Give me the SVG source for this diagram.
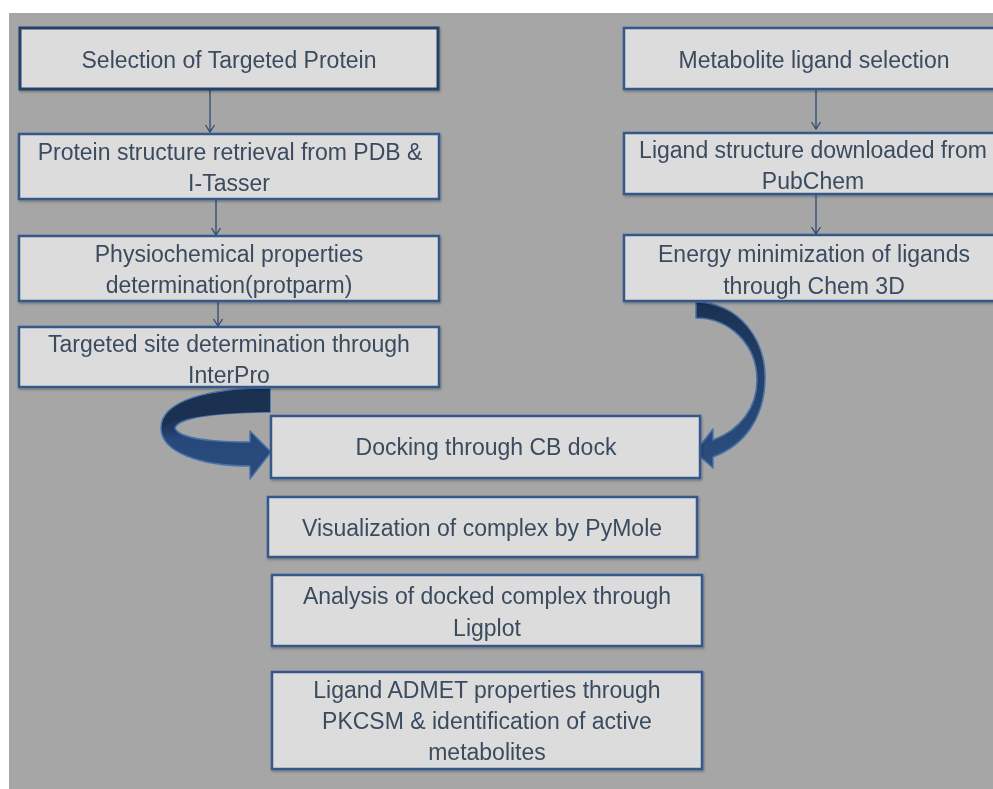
<svg xmlns="http://www.w3.org/2000/svg" width="993" height="789" viewBox="0 0 993 789">
<defs>
<style>
.box{fill:#dcdcdc;stroke:#36598a;stroke-width:2.5}
.t{font-family:"Liberation Sans",Arial,sans-serif;font-size:23px;fill:#3b4b5f;text-anchor:middle}
.conn{stroke:#2e4a6e;stroke-width:1.3;fill:none}
.ribbon{stroke:#4a72a6;stroke-width:1.5;stroke-linejoin:round}
</style>
<marker id="ah" markerWidth="12" markerHeight="12" refX="10" refY="6" orient="auto" markerUnits="userSpaceOnUse" viewBox="0 0 12 12">
<path d="M3 1.5 L10 6 L3 10.5" fill="none" stroke="#2e4a6e" stroke-width="1.3"/>
</marker>
<linearGradient id="gL" x1="0" y1="0" x2="0" y2="1">
<stop offset="0" stop-color="#1c3354"/>
<stop offset="0.45" stop-color="#1e3860"/>
<stop offset="0.55" stop-color="#27487a"/>
<stop offset="1" stop-color="#2a4c7c"/>
</linearGradient>
<linearGradient id="gR" x1="0" y1="0" x2="0" y2="1">
<stop offset="0" stop-color="#1a3050"/>
<stop offset="0.4" stop-color="#22406a"/>
<stop offset="1" stop-color="#2b4f80"/>
</linearGradient>
<filter id="sh" x="-5%" y="-5%" width="110%" height="120%">
<feDropShadow dx="1" dy="1.5" stdDeviation="1" flood-color="#000" flood-opacity="0.3"/>
</filter>
</defs>
<rect x="0" y="0" width="993" height="789" fill="#ffffff"/>
<rect x="9" y="13" width="984" height="776" fill="#a6a6a6"/>

<g id="connectors">
<line class="conn" x1="210" y1="89" x2="210" y2="132" marker-end="url(#ah)"/>
<line class="conn" x1="216" y1="199" x2="216" y2="235" marker-end="url(#ah)"/>
<line class="conn" x1="218" y1="301" x2="218" y2="326" marker-end="url(#ah)"/>
<line class="conn" x1="816" y1="89" x2="816" y2="129" marker-end="url(#ah)"/>
<line class="conn" x1="816" y1="192" x2="816" y2="234" marker-end="url(#ah)"/>
<g id="curved-left">
<path class="ribbon" fill="url(#gL)" d="M270 388 C205 388 161 402 161 428 C161 452 200 466 250 466 L250 479 L271 452 L250 431 L250 442 C205 442 178 437 175 428 C178 418 215 412 270 412 Z"/>
<path d="M270 389 C205 389 162 402 162 428 C170 419 215 412 270 412 Z" fill="#1b3151"/>
</g>
<g id="curved-right">
<path class="ribbon" fill="url(#gR)" d="M696 302 C740 303 766 340 765 380 C764 418 745 445 713 457 L713 468 L695 452 L713 429 L713 440 C740 430 757 408 757 380 C757 345 730 318 696 318 Z"/>
</g>
</g>

<g id="n1" filter="url(#sh)"><rect class="box" x="20" y="28" width="418" height="61" style="stroke:#24426c;stroke-width:3"/>
<text class="t" x="229" y="68">Selection of Targeted Protein</text></g>

<g id="n2" filter="url(#sh)"><rect class="box" x="19" y="134" width="420" height="65"/>
<text class="t" x="230" y="160">Protein structure retrieval from PDB &amp;</text>
<text class="t" x="229" y="191">I-Tasser</text></g>

<g id="n3" filter="url(#sh)"><rect class="box" x="19" y="236" width="420" height="65"/>
<text class="t" x="229" y="262">Physiochemical properties</text>
<text class="t" x="229" y="293">determination(protparm)</text></g>

<g id="n4" filter="url(#sh)"><rect class="box" x="19" y="327" width="420" height="60"/>
<text class="t" x="229" y="352">Targeted site determination through</text>
<text class="t" x="229" y="383">InterPro</text></g>

<g id="n5" filter="url(#sh)"><rect class="box" x="624" y="28" width="380" height="61"/>
<text class="t" x="814" y="68">Metabolite ligand selection</text></g>

<g id="n6" filter="url(#sh)"><rect class="box" x="624" y="133" width="380" height="61"/>
<text class="t" x="813" y="158">Ligand structure downloaded from</text>
<text class="t" x="813" y="189">PubChem</text></g>

<g id="n7" filter="url(#sh)"><rect class="box" x="624" y="235" width="380" height="66"/>
<text class="t" x="814" y="262">Energy minimization of ligands</text>
<text class="t" x="814" y="294">through Chem 3D</text></g>

<g id="n8" filter="url(#sh)"><rect class="box" x="271" y="416" width="429" height="62"/>
<text class="t" x="486" y="455">Docking through CB dock</text></g>

<g id="n9" filter="url(#sh)"><rect class="box" x="268" y="497" width="429" height="60"/>
<text class="t" x="482" y="536">Visualization of complex by PyMole</text></g>

<g id="n10" filter="url(#sh)"><rect class="box" x="272" y="575" width="430" height="71"/>
<text class="t" x="487" y="604">Analysis of docked complex through</text>
<text class="t" x="487" y="636">Ligplot</text></g>

<g id="n11" filter="url(#sh)"><rect class="box" x="272" y="672" width="430" height="97"/>
<text class="t" x="487" y="698">Ligand ADMET properties through</text>
<text class="t" x="487" y="729">PKCSM &amp; identification of active</text>
<text class="t" x="487" y="760">metabolites</text></g>
</svg>
